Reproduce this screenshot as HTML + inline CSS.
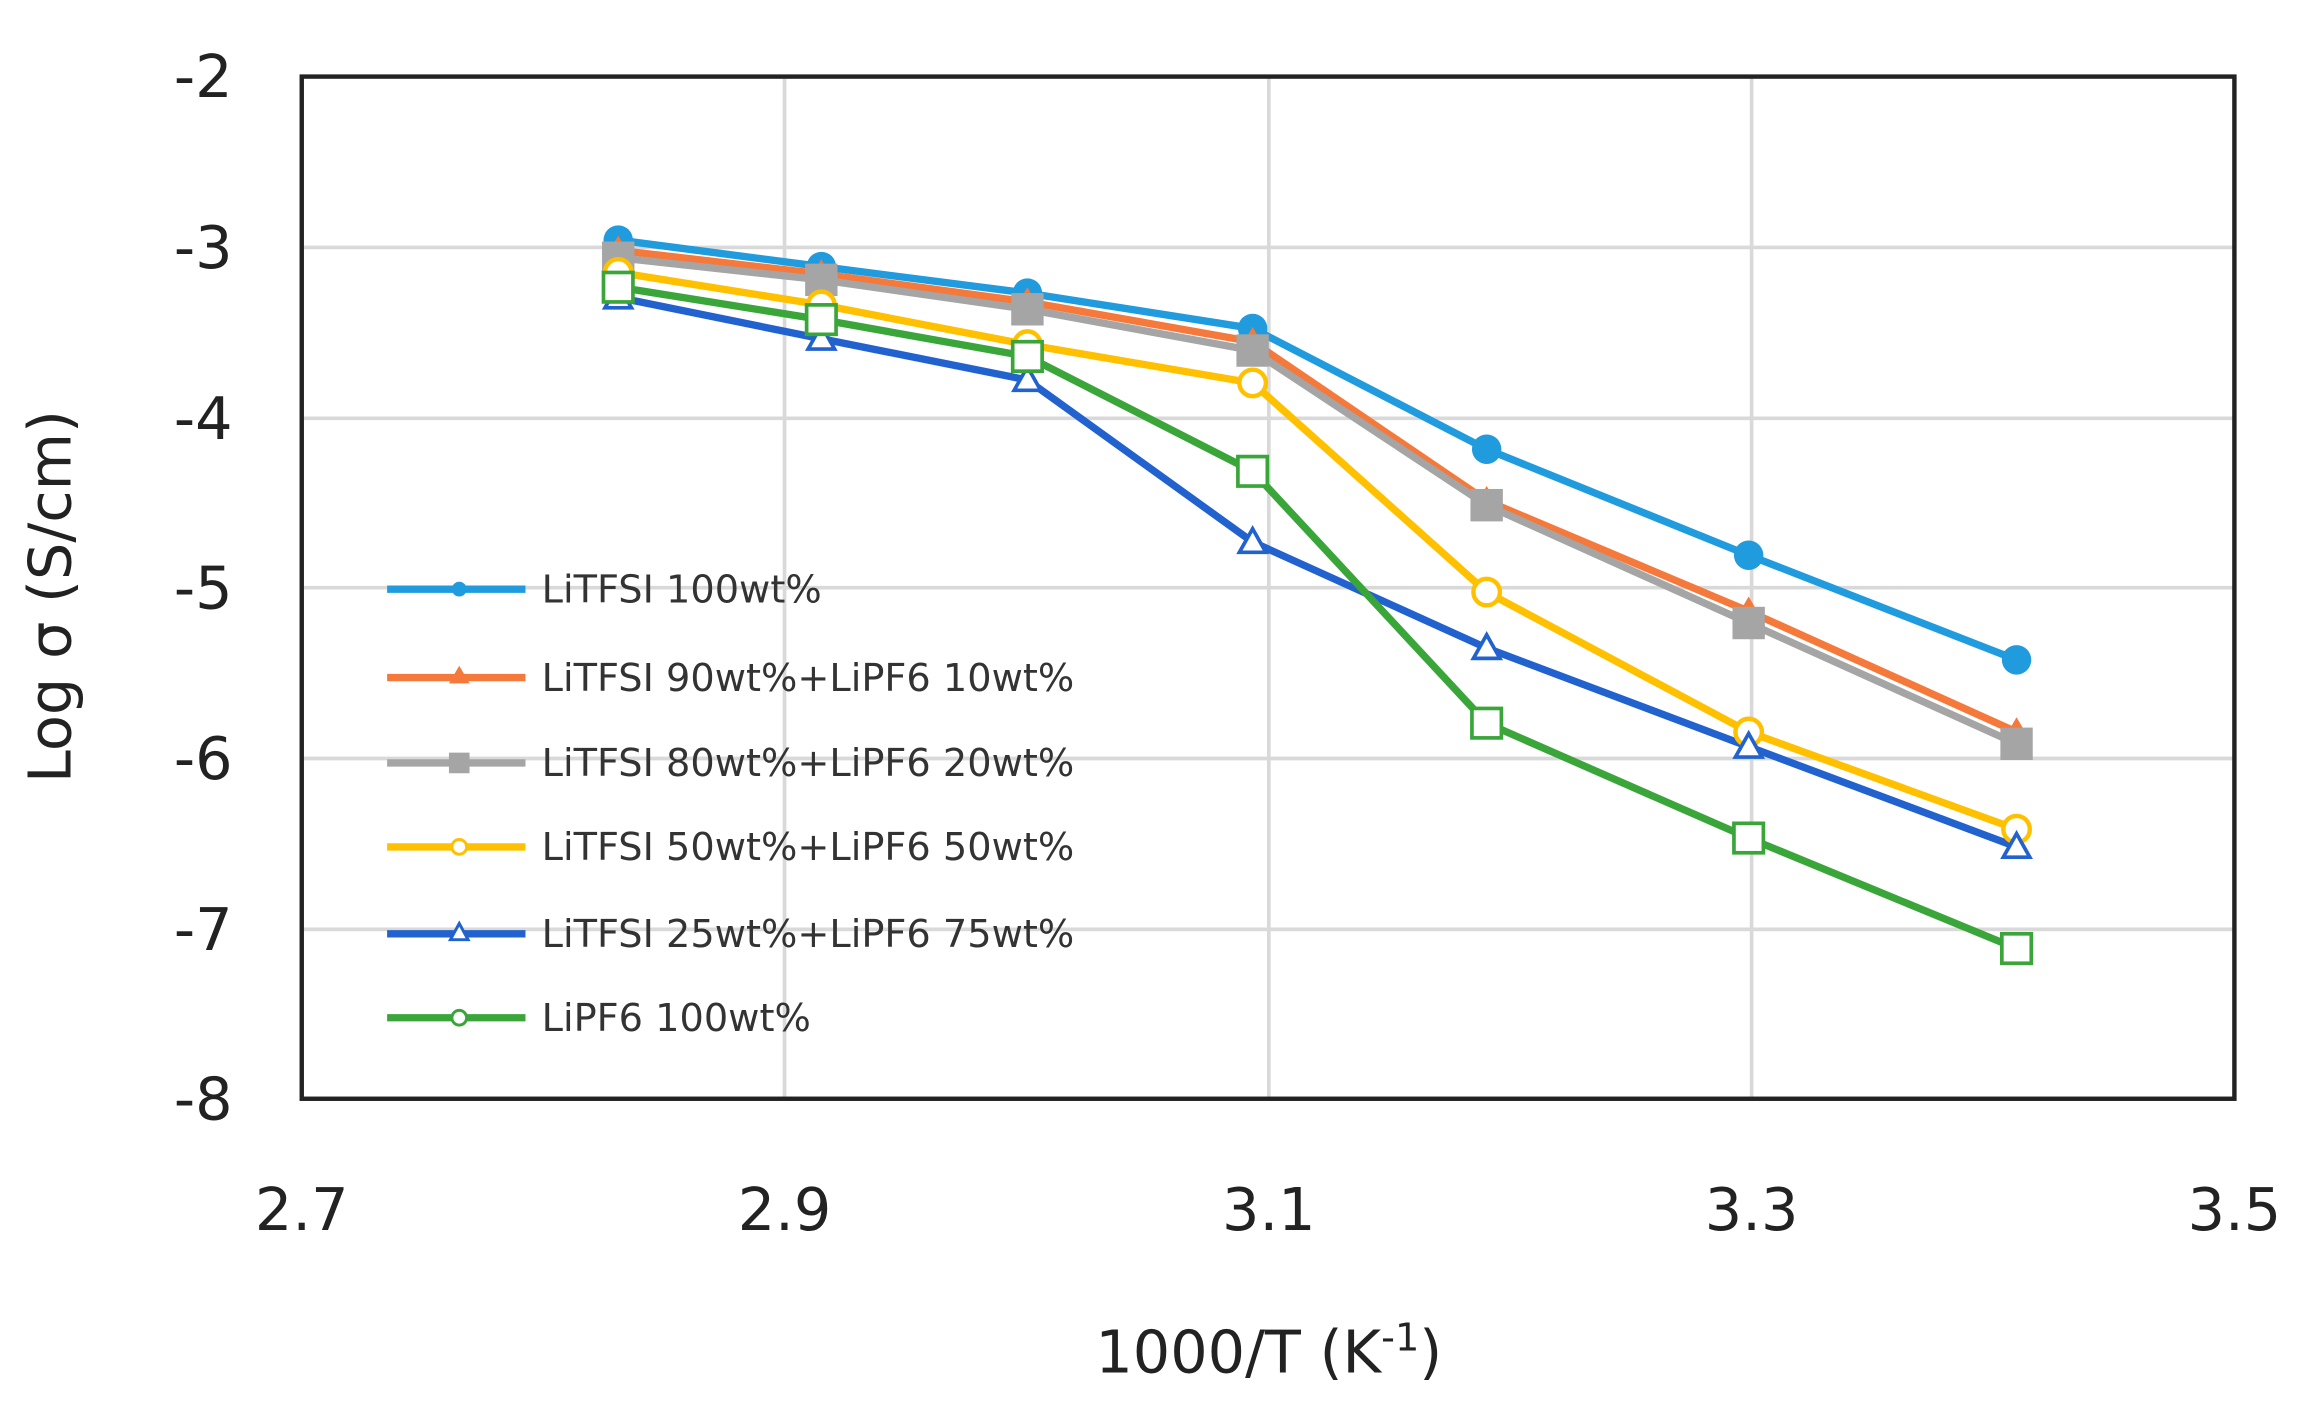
<!DOCTYPE html>
<html><head><style>html,body{margin:0;padding:0;background:#fff}svg{display:block}</style></head>
<body>
<svg width="2308" height="1411" viewBox="0 0 1568 958" preserveAspectRatio="none" xmlns="http://www.w3.org/2000/svg" font-family="'DejaVu Sans','Liberation Sans',sans-serif">
<rect width="1568" height="958" fill="#fff"/>
<g stroke="#d9d9d9" stroke-width="2.5">
<line x1="205" y1="168" x2="1518" y2="168"/><line x1="205" y1="284" x2="1518" y2="284"/>
<line x1="205" y1="399" x2="1518" y2="399"/><line x1="205" y1="515" x2="1518" y2="515"/>
<line x1="205" y1="631" x2="1518" y2="631"/>
<line x1="533" y1="52" x2="533" y2="746"/><line x1="862" y1="52" x2="862" y2="746"/><line x1="1190" y1="52" x2="1190" y2="746"/>
</g>
<rect x="205" y="52" width="1313" height="694" fill="none" stroke="#222" stroke-width="3"/>
<g font-size="40" fill="#222" text-anchor="end">
<text x="158" y="66">-2</text><text x="158" y="182">-3</text><text x="158" y="298">-4</text><text x="158" y="413">-5</text><text x="158" y="529">-6</text><text x="158" y="645">-7</text><text x="158" y="760">-8</text>
</g>
<g font-size="40" fill="#222" text-anchor="middle">
<text x="205" y="835">2.7</text><text x="533" y="835">2.9</text><text x="862" y="835">3.1</text><text x="1190" y="835">3.3</text><text x="1518" y="835">3.5</text>
<text x="862" y="932">1000/T (K<tspan dy="-15" font-size="26">-1</tspan><tspan dy="15">)</tspan></text>
</g>
<text transform="translate(48,405) rotate(-90)" font-size="40" fill="#222" text-anchor="middle">Log σ (S/cm)</text>
<g fill="none" stroke-width="5" stroke-linejoin="round">
<polyline stroke="#1f9bde" points="420,163 558,181 698,199 851,223 1010,305 1188,377 1370,448"/>
<polyline stroke="#f4793a" points="420,170 558,186 698,205 851,232 1010,340 1188,415 1370,497"/>
<polyline stroke="#a5a5a5" points="420,175 558,190 698,210 851,238 1010,343 1188,423 1370,505"/>
<polyline stroke="#ffc000" points="420,185 558,207 698,234 851,260 1010,402 1188,497 1370,563"/>
<polyline stroke="#2162cf" points="420,202 558,230 698,258 851,368 1010,440 1188,507 1370,575"/>
<polyline stroke="#3aa63a" points="420,195 558,217 698,242 851,320 1010,491 1188,569 1370,644"/>
</g>
<g fill="#1f9bde"><circle cx="420" cy="163" r="10"/><circle cx="558" cy="181" r="10"/><circle cx="698" cy="199" r="10"/><circle cx="851" cy="223" r="10"/><circle cx="1010" cy="305" r="10"/><circle cx="1188" cy="377" r="10"/><circle cx="1370" cy="448" r="10"/></g>
<g fill="#f4793a"><polygon points="420,160 430,177 410,177"/><polygon points="558,176 568,193 548,193"/><polygon points="698,195 708,212 688,212"/><polygon points="851,222 861,239 841,239"/><polygon points="1010,330 1020,347 1000,347"/><polygon points="1188,405 1198,422 1178,422"/><polygon points="1370,487 1380,504 1360,504"/></g>
<g fill="#a5a5a5"><rect x="409" y="164" width="22" height="22"/><rect x="547" y="179" width="22" height="22"/><rect x="687" y="199" width="22" height="22"/><rect x="840" y="227" width="22" height="22"/><rect x="999" y="332" width="22" height="22"/><rect x="1177" y="412" width="22" height="22"/><rect x="1359" y="494" width="22" height="22"/></g>
<g fill="#fff" stroke="#ffc000" stroke-width="3"><circle cx="420" cy="185" r="9"/><circle cx="558" cy="207" r="9"/><circle cx="698" cy="234" r="9"/><circle cx="851" cy="260" r="9"/><circle cx="1010" cy="402" r="9"/><circle cx="1188" cy="497" r="9"/><circle cx="1370" cy="563" r="9"/></g>
<g fill="#fff" stroke="#2162cf" stroke-width="2.5"><polygon points="420,193 429,209 411,209"/><polygon points="558,221 567,237 549,237"/><polygon points="698,249 707,265 689,265"/><polygon points="851,359 860,375 842,375"/><polygon points="1010,431 1019,447 1001,447"/><polygon points="1188,498 1197,514 1179,514"/><polygon points="1370,566 1379,582 1361,582"/></g>
<g fill="#fff" stroke="#3aa63a" stroke-width="2.5"><rect x="410" y="185" width="20" height="20"/><rect x="548" y="207" width="20" height="20"/><rect x="688" y="232" width="20" height="20"/><rect x="841" y="310" width="20" height="20"/><rect x="1000" y="481" width="20" height="20"/><rect x="1178" y="559" width="20" height="20"/><rect x="1360" y="634" width="20" height="20"/></g>
<g stroke-width="5">
<line x1="263" y1="400" x2="357" y2="400" stroke="#1f9bde"/><line x1="263" y1="460" x2="357" y2="460" stroke="#f4793a"/>
<line x1="263" y1="518" x2="357" y2="518" stroke="#a5a5a5"/><line x1="263" y1="575" x2="357" y2="575" stroke="#ffc000"/>
<line x1="263" y1="634" x2="357" y2="634" stroke="#2162cf"/><line x1="263" y1="691" x2="357" y2="691" stroke="#3aa63a"/>
</g>
<circle cx="312" cy="400" r="5" fill="#1f9bde"/>
<polygon points="312,452 319,464 305,464" fill="#f4793a"/>
<rect x="305" y="511" width="14" height="14" fill="#a5a5a5"/>
<circle cx="312" cy="575" r="5" fill="#fff" stroke="#ffc000" stroke-width="2"/>
<polygon points="312,627 318,638 306,638" fill="#fff" stroke="#2162cf" stroke-width="2"/>
<circle cx="312" cy="691" r="5" fill="#fff" stroke="#3aa63a" stroke-width="2"/>
<g font-size="26" fill="#333">
<text x="368" y="409">LiTFSI 100wt%</text>
<text x="368" y="469">LiTFSI 90wt%+LiPF6 10wt%</text>
<text x="368" y="527">LiTFSI 80wt%+LiPF6 20wt%</text>
<text x="368" y="584">LiTFSI 50wt%+LiPF6 50wt%</text>
<text x="368" y="643">LiTFSI 25wt%+LiPF6 75wt%</text>
<text x="368" y="700">LiPF6 100wt%</text>
</g>
</svg>
</body></html>
